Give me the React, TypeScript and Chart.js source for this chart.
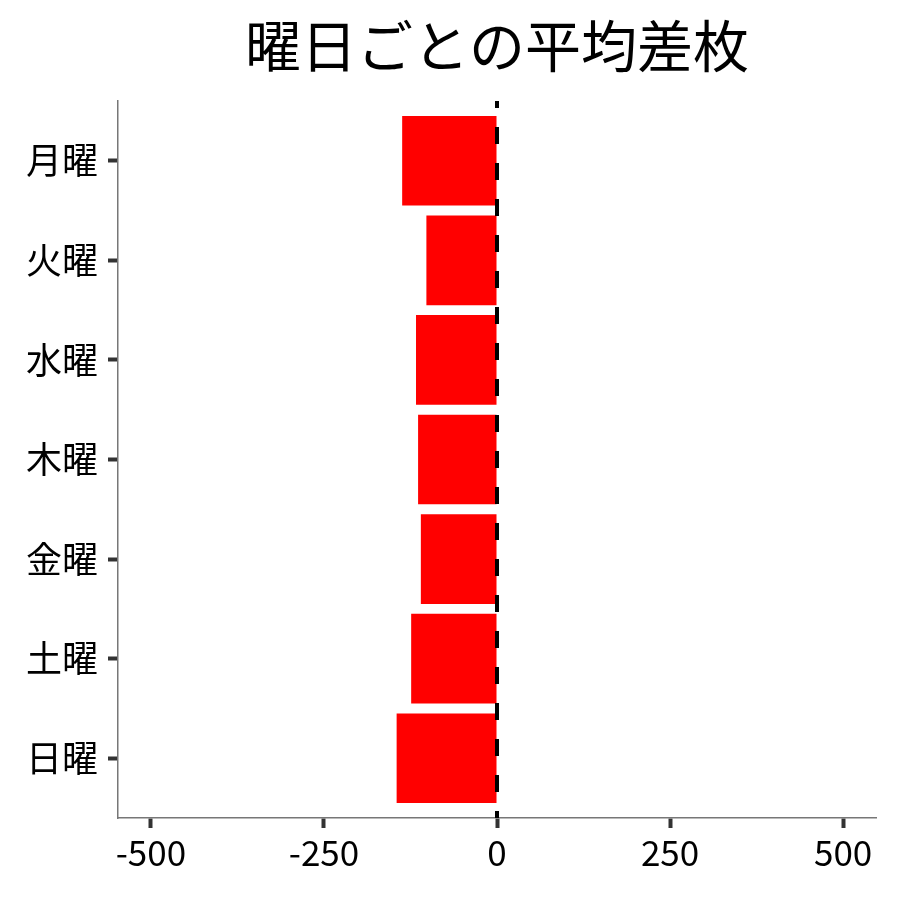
import { useEffect, useRef } from "react"
import { Chart, registerables } from "chart.js"

Chart.register(...registerables)

const titleText = "曜日ごとの平均差枚"
const days = ["月曜", "火曜", "水曜", "木曜", "金曜", "土曜", "日曜"]
const dayPositions = [1, 2, 3, 4, 5, 6, 7]
const avgDiff = [-137, -102, -117, -114, -110, -124, -145]
const xTicks = [-500, -250, 0, 250, 500]

const FONT = "'Noto Sans CJK JP', 'Noto Sans', sans-serif"

// dashed reference line at x = 0, plus the title centred over the panel
const zeroLine = {
  id: "zeroLine",
  afterDatasetsDraw(chart: Chart) {
    const { ctx, chartArea, scales } = chart
    const x = scales.x.getPixelForValue(0)
    ctx.save()
    ctx.strokeStyle = "#000000"
    ctx.lineWidth = 4
    ctx.setLineDash([17, 19])
    ctx.lineDashOffset = 10
    ctx.beginPath()
    ctx.moveTo(x, chartArea.top)
    ctx.lineTo(x, chartArea.bottom)
    ctx.stroke()
    ctx.restore()
  },
  afterDraw(chart: Chart) {
    const { ctx, chartArea } = chart
    ctx.save()
    ctx.fillStyle = "#000000"
    ctx.font = `56px ${FONT}`
    ctx.textAlign = "center"
    ctx.textBaseline = "middle"
    ctx.fillText(titleText, (chartArea.left + chartArea.right) / 2, 46)
    ctx.restore()
  },
}

export default function App() {
  const chartRef = useRef<HTMLCanvasElement>(null)
  const chartInstance = useRef<Chart | null>(null)

  useEffect(() => {
    document.body.style.margin = "0"
    if (!chartRef.current) return
    if (chartInstance.current) chartInstance.current.destroy()

    const ctx = chartRef.current.getContext("2d")
    if (!ctx) return

    chartInstance.current = new Chart(ctx, {
      type: "bar",
      data: {
        datasets: [
          {
            label: "平均差枚",
            data: avgDiff.map((v, i) => ({ x: v, y: dayPositions[i] })),
            backgroundColor: "#ff0000",
            borderWidth: 0,
            barPercentage: 0.9,
            categoryPercentage: 1,
          },
        ],
      },
      options: {
        indexAxis: "y",
        responsive: false,
        animation: false,
        layout: { padding: { left: 0, right: 24, top: 101, bottom: 0 } },
        plugins: {
          legend: { display: false },
          tooltip: { enabled: false },
          title: { display: false },
        },
        scales: {
          x: {
            type: "linear",
            min: -547.5,
            max: 547.5,
            afterFit: (scale: any) => {
              scale.height = 82
            },
            afterBuildTicks: (scale: any) => {
              scale.ticks = xTicks.map((v) => ({ value: v }))
            },
            ticks: {
              color: "#000000",
              font: { family: FONT, size: 35 },
              padding: 4,
              maxRotation: 0,
            },
            grid: {
              display: true,
              drawOnChartArea: false,
              drawTicks: true,
              tickLength: 10,
              tickWidth: 4,
              tickColor: "#333333",
            },
            border: { display: true, color: "#777777", width: 1.5 },
          },
          y: {
            type: "linear",
            reverse: true,
            offset: false,
            min: 0.4,
            max: 7.6,
            afterFit: (scale: any) => {
              scale.width = 118
            },
            afterBuildTicks: (scale: any) => {
              scale.ticks = dayPositions.map((v) => ({ value: v }))
            },
            ticks: {
              color: "#000000",
              font: { family: FONT, size: 36 },
              padding: 10,
              callback: (value: any) => days[Number(value) - 1] ?? "",
            },
            grid: {
              display: true,
              offset: false,
              drawOnChartArea: false,
              drawTicks: true,
              tickLength: 10,
              tickWidth: 4,
              tickColor: "#333333",
            },
            border: { display: true, color: "#777777", width: 1.5 },
          },
        },
      },
      plugins: [zeroLine],
    })

    return () => {
      if (chartInstance.current) {
        chartInstance.current.destroy()
        chartInstance.current = null
      }
    }
  }, [])

  return (
    <div style={{ width: 900, height: 900, background: "#ffffff" }}>
      <canvas ref={chartRef} width={900} height={900} />
    </div>
  )
}
